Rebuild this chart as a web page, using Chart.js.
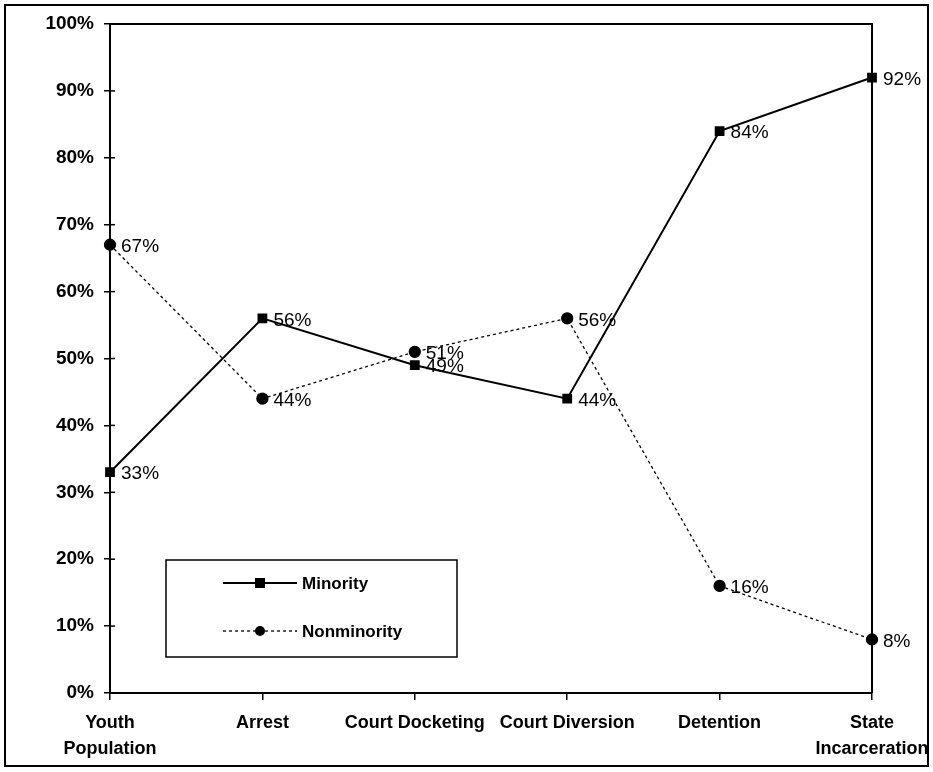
<!DOCTYPE html>
<html>
<head>
<meta charset="utf-8">
<script src="https://cdn.jsdelivr.net/npm/chart.js@4.4.0/dist/chart.umd.min.js"></script>
<style>
  body { margin: 0; background: #fff; }
  #wrap { width: 933px; height: 772px; }
</style>
</head>
<body>
<div id="wrap"><canvas id="js--chart--1" width="933" height="772"></canvas></div>
<script>
const categories = [["Youth", "Population"], "Arrest", "Court Docketing", "Court Diversion", "Detention", ["State", "Incarceration"]];
const minority = [33, 56, 49, 44, 84, 92];
const nonminority = [67, 44, 51, 56, 16, 8];
const seriesNames = ["Minority", "Nonminority"];

const fontFamily = "'Liberation Sans', Arial, sans-serif";

// outer frame, plot box, inner tick marks, value labels and the boxed legend
const extras = {
    id: "extras",
    afterDraw(chart) {
        const ctx = chart.ctx;
        const a = chart.chartArea;
        ctx.save();
        ctx.strokeStyle = "#000";

        ctx.lineWidth = 2;
        ctx.strokeRect(5, 5, 923, 761);

        ctx.lineWidth = 2;
        ctx.beginPath();
        ctx.moveTo(a.left, a.top);
        ctx.lineTo(a.right, a.top);
        ctx.lineTo(a.right, a.bottom);
        ctx.stroke();

        const ys = chart.scales.y;
        ctx.lineWidth = 1.5;
        ys.ticks.forEach(function (t) {
            const y = ys.getPixelForValue(t.value);
            ctx.beginPath();
            ctx.moveTo(a.left, y);
            ctx.lineTo(a.left + 5, y);
            ctx.stroke();
        });

        ctx.fillStyle = "#000";
        ctx.font = "19px " + fontFamily;
        ctx.textBaseline = "middle";
        ctx.textAlign = "left";
        chart.data.datasets.forEach(function (ds, i) {
            chart.getDatasetMeta(i).data.forEach(function (pt, j) {
                ctx.fillText(ds.data[j] + "%", pt.x + 11, pt.y + 2);
            });
        });

        // legend box
        const lx = 166, ly = 560, lw = 291, lh = 97;
        ctx.lineWidth = 1.5;
        ctx.strokeRect(lx, ly, lw, lh);
        const rows = [ly + 23, ly + 71];
        chart.data.datasets.forEach(function (ds, i) {
            const y = rows[i];
            ctx.lineWidth = ds.borderWidth;
            ctx.setLineDash(ds.borderDash || []);
            ctx.beginPath();
            ctx.moveTo(223, y);
            ctx.lineTo(297, y);
            ctx.stroke();
            ctx.setLineDash([]);
            if (ds.pointStyle === "rect") {
                ctx.fillRect(255, y - 5, 10, 10);
            } else {
                ctx.beginPath();
                ctx.arc(260, y, 5, 0, Math.PI * 2);
                ctx.fill();
            }
            ctx.font = "bold 17px " + fontFamily;
            ctx.fillText(ds.label, 302, y + 1);
        });
        ctx.restore();
    }
};

const data = {
    labels: categories,
    datasets: [
        {
            label: seriesNames[0],
            data: minority,
            borderColor: "#000",
            backgroundColor: "#000",
            borderWidth: 2,
            pointStyle: "rect",
            pointRadius: 5.5,
            tension: 0
        },
        {
            label: seriesNames[1],
            data: nonminority,
            borderColor: "#000",
            backgroundColor: "#000",
            borderWidth: 1.3,
            borderDash: [3, 3],
            pointStyle: "circle",
            pointRadius: 5.5,
            tension: 0
        }
    ]
};

const config = {
    type: "line",
    data: data,
    options: {
        responsive: false,
        animation: false,
        events: [],
        layout: { padding: { top: 24, right: 61, left: 0, bottom: 0 } },
        plugins: { legend: { display: false }, tooltip: { enabled: false } },
        scales: {
            x: {
                offset: false,
                grid: { drawOnChartArea: false, tickLength: 7, color: "#000", lineWidth: 1.5 },
                border: { color: "#000", width: 2 },
                ticks: {
                    color: "#000",
                    font: { family: fontFamily, size: 18, weight: "bold", lineHeight: 1.45 },
                    padding: 10,
                    maxRotation: 0,
                    autoSkip: false
                },
                afterFit: function (s) { s.height = 79; s.paddingLeft = 0; s.paddingRight = 0; }
            },
            y: {
                min: 0,
                max: 100,
                grid: { drawOnChartArea: false, tickLength: 6, color: "#000", lineWidth: 1.5 },
                border: { color: "#000", width: 2 },
                ticks: {
                    stepSize: 10,
                    color: "#000",
                    font: { family: fontFamily, size: 19, weight: "bold" },
                    padding: 10,
                    callback: function (v) { return v + "%"; }
                },
                afterFit: function (s) { s.width = 110; }
            }
        }
    },
    plugins: [extras]
};

const chart1 = new Chart(document.getElementById("js--chart--1"), config);
</script>
</body>
</html>
